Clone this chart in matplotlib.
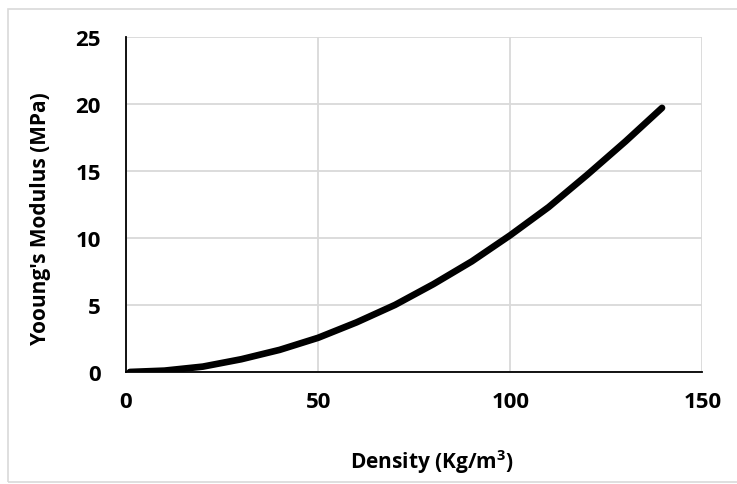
import matplotlib
matplotlib.use('Agg')
import matplotlib.pyplot as plt
from matplotlib.patches import Rectangle

# values
density = [1, 10, 20, 30, 40, 50, 60, 70, 80, 90, 100, 110, 120, 130, 139.5]
modulus = [0.0, 0.1, 0.4, 0.95, 1.65, 2.55, 3.7, 5.0, 6.55, 8.25, 10.2, 12.3, 14.7, 17.2, 19.7]
xticks = [0, 50, 100, 150]
yticks = [0, 5, 10, 15, 20, 25]

plt.rcParams['font.family'] = ['Open Sans', 'DejaVu Sans']
plt.rcParams['font.weight'] = 'bold'

fig = plt.figure(figsize=(7.37, 4.85), dpi=100)
ax = fig.add_axes([0.171, 0.231, 0.782, 0.691])

# light frame: top and left edges only show, the rest runs off the picture
fig.patches.append(Rectangle((8 / 737, 2 / 485), 1.1, 473 / 485,
                             transform=fig.transFigure, fill=False,
                             edgecolor='#d9d9d9', linewidth=1.2))

ax.plot(density, modulus, color='black', linewidth=4.8, solid_capstyle='round')

ax.set_xlim(0, 150)
ax.set_ylim(0, 25)
ax.set_xticks(xticks)
ax.set_yticks(yticks)
ax.grid(True, color='#d9d9d9', linewidth=1.3)
ax.set_axisbelow(True)
for side in ['top', 'right']:
    ax.spines[side].set_visible(False)
for side in ['left', 'bottom']:
    ax.spines[side].set_linewidth(1.3)
    ax.spines[side].set_color('black')
ax.tick_params(length=0, labelsize=16, pad=14)
ax.tick_params(axis='y', pad=18)
for lbl in ax.get_xticklabels() + ax.get_yticklabels():
    lbl.set_fontweight('bold')

ax.set_xlabel('Density (Kg/m$^\\mathregular{3}$)', fontsize=15, fontweight='bold')
ax.set_ylabel("Yooung's Modulus (MPa)", fontsize=15, fontweight='bold')
ax.xaxis.set_label_coords(0.53, -0.225)
ax.yaxis.set_label_coords(-0.13, 0.46)

fig.savefig('out.png', dpi=100)
